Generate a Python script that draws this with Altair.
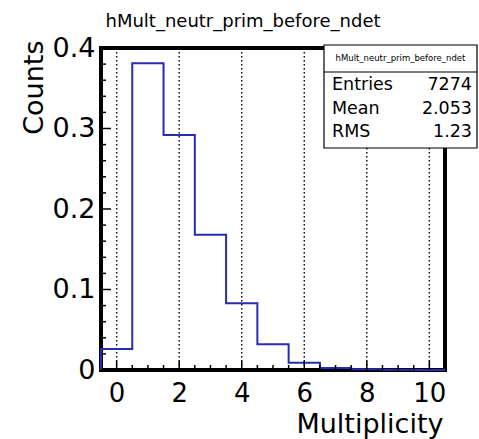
import altair as alt
import pandas as pd

# ---- data ----
BIN_CENTERS = [0, 1, 2, 3, 4, 5, 6, 7, 8, 9, 10]
BIN_VALUES = [0.026, 0.381, 0.292, 0.168, 0.083, 0.032, 0.009, 0.0025, 0.0008, 0.0003, 0.0001]
X_MAJOR = [0, 2, 4, 6, 8, 10]
X_MINOR = [0.5, 1, 1.5, 2.5, 3, 3.5, 4.5, 5, 5.5, 6.5, 7, 7.5, 8.5, 9, 9.5]
Y_MAJOR = [0, 0.1, 0.2, 0.3, 0.4]
Y_MINOR = [0.02, 0.04, 0.06, 0.08, 0.12, 0.14, 0.16, 0.18, 0.22, 0.24, 0.26, 0.28,
           0.32, 0.34, 0.36, 0.38]
TITLE = "hMult_neutr_prim_before_ndet"
STAT_NAMES = ["Entries", "Mean", "RMS"]
STAT_VALUES = ["7274", "2.053", "1.23"]

FONT = "DejaVu Sans"
W, H = 344, 322
LINE_COLOR = "#2a2ab4"

# step outline of the histogram
half = 0.5
step_x = [BIN_CENTERS[0] - half] + [c - half for c in BIN_CENTERS] + [BIN_CENTERS[-1] + half]
step_y = [0] + BIN_VALUES + [BIN_VALUES[-1]]
hist_df = pd.DataFrame({"x": step_x, "y": step_y})

xscale = alt.Scale(domain=[-0.5, 10.5], nice=False, zero=False)
yscale = alt.Scale(domain=[0, 0.4], nice=False)

XAX = alt.Axis(values=X_MAJOR, format="d", labelFont=FONT, labelFontSize=26,
               labelColor="black", labelPadding=10, labelFlush=False,
               ticks=False, domain=False, grid=False,
               title="Multiplicity", titleFont=FONT, titleFontSize=27,
               titleFontWeight="normal", titleColor="black",
               titleAlign="right", titleBaseline="alphabetic",
               titleX=342, titleY=62)
YAX = alt.Axis(values=Y_MAJOR, format="~g", labelFont=FONT, labelFontSize=27,
               labelColor="black", labelPadding=6,
               ticks=False, domain=False, grid=False,
               title="Counts", titleFont=FONT, titleFontSize=27,
               titleFontWeight="normal", titleColor="black",
               titleAngle=270, titleAlign="right", titleBaseline="alphabetic",
               titleX=-59, titleY=-8)

grid = alt.Chart(pd.DataFrame({"v": X_MAJOR})).mark_rule(
    color="black", strokeWidth=1.4, strokeDash=[1.5, 2.5]
).encode(x=alt.X("v:Q", scale=xscale, axis=XAX))

hist = alt.Chart(hist_df).mark_line(
    interpolate="step-after", color=LINE_COLOR, strokeWidth=2
).encode(
    x=alt.X("x:Q", scale=xscale, axis=XAX),
    y=alt.Y("y:Q", scale=yscale, axis=YAX),
)

xmaj = alt.Chart(pd.DataFrame({"v": X_MAJOR})).mark_rule(color="black", strokeWidth=1.5).encode(
    x=alt.X("v:Q", scale=xscale, axis=XAX), y=alt.value(H), y2=alt.value(H - 9))
xmin = alt.Chart(pd.DataFrame({"v": X_MINOR})).mark_rule(color="black", strokeWidth=1.5).encode(
    x=alt.X("v:Q", scale=xscale, axis=XAX), y=alt.value(H), y2=alt.value(H - 5))
ymaj = alt.Chart(pd.DataFrame({"v": Y_MAJOR})).mark_rule(color="black", strokeWidth=1.5).encode(
    y=alt.Y("v:Q", scale=yscale, axis=YAX), x=alt.value(0), x2=alt.value(10))
ymin = alt.Chart(pd.DataFrame({"v": Y_MINOR})).mark_rule(color="black", strokeWidth=1.5).encode(
    y=alt.Y("v:Q", scale=yscale, axis=YAX), x=alt.value(0), x2=alt.value(5))

one = pd.DataFrame({"a": [0]})

title = alt.Chart(pd.DataFrame({"t": [TITLE]})).mark_text(
    font=FONT, fontSize=18, align="center", baseline="alphabetic", color="black"
).encode(text="t:N", x=alt.value(142), y=alt.value(-21))

box = alt.Chart(one).mark_rect(fill="white", stroke="black", strokeWidth=1.2).encode(
    x=alt.value(223), x2=alt.value(376), y=alt.value(-3), y2=alt.value(100))
sep = alt.Chart(one).mark_rule(color="black", strokeWidth=1).encode(
    x=alt.value(223), x2=alt.value(376), y=alt.value(24))
box_title = alt.Chart(pd.DataFrame({"t": [TITLE]})).mark_text(
    font=FONT, fontSize=8.5, align="center", baseline="middle", color="black"
).encode(text="t:N", x=alt.value(299.5), y=alt.value(10))

stat_layers = []
row_y = [42, 66, 89]
for name, val, yy in zip(STAT_NAMES, STAT_VALUES, row_y):
    stat_layers.append(
        alt.Chart(pd.DataFrame({"t": [name]})).mark_text(
            font=FONT, fontSize=17.5, align="left", baseline="alphabetic", color="black"
        ).encode(text="t:N", x=alt.value(231), y=alt.value(yy)))
    stat_layers.append(
        alt.Chart(pd.DataFrame({"t": [val]})).mark_text(
            font=FONT, fontSize=17.5, align="right", baseline="alphabetic", color="black"
        ).encode(text="t:N", x=alt.value(371), y=alt.value(yy)))

chart = alt.layer(
    grid, hist, xmaj, xmin, ymaj, ymin, title, box, sep, box_title, *stat_layers
).properties(
    width=W, height=H,
    autosize=alt.AutoSizeParams(type="none"),
    padding={"left": 101, "top": 48, "right": 34, "bottom": 69},
    background="white",
).configure_view(stroke="black", strokeWidth=4)

chart.save("out.html", embed_options={"renderer": "svg", "actions": False})
